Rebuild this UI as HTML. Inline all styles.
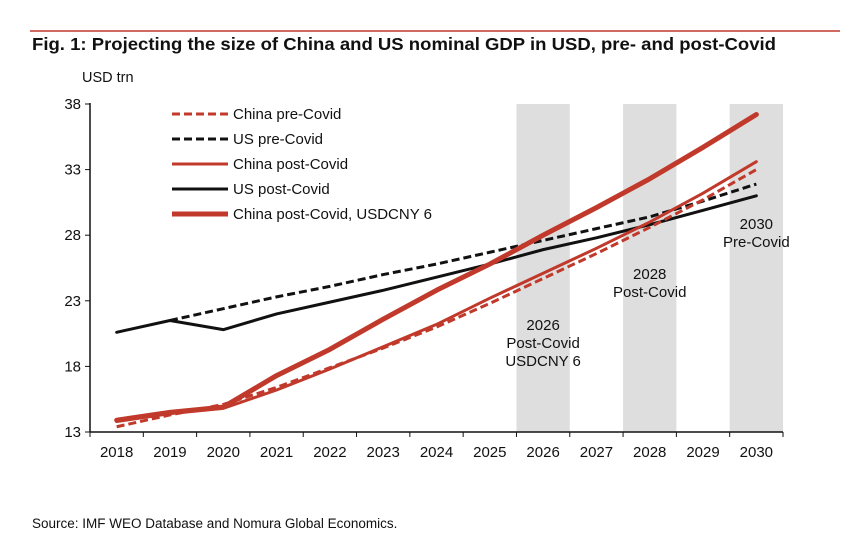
<!DOCTYPE html>
<html><head><meta charset="utf-8"><style>
body{margin:0;background:#fff;font-family:"Liberation Sans",Arial,sans-serif;}
#wrap{position:relative;width:861px;height:554px;overflow:hidden;}
</style></head><body>
<div id="wrap">
<svg id="svg" width="861" height="554">
<line x1="30" y1="31" x2="840" y2="31" stroke="#c0392b" stroke-width="1.5"/>
<text x="32" y="50" font-size="17.5" font-weight="bold" fill="#111" textLength="744" lengthAdjust="spacingAndGlyphs">Fig. 1:  Projecting the size of China and US nominal GDP in USD, pre- and post-Covid</text>
<text x="82" y="82" font-size="14.5" fill="#111">USD trn</text>
<text x="32" y="528" font-size="13.5" fill="#111">Source: IMF WEO Database and Nomura Global Economics.</text>
<g id="bands"></g><g id="axes"></g><g id="lines"></g><g id="legend"></g><g id="notes"></g>
</svg>
</div>
<script>
const years=[2018,2019,2020,2021,2022,2023,2024,2025,2026,2027,2028,2029,2030];
const yTicks=[13,18,23,28,33,38];
const chinaPre=[13.4,14.3,15.1,16.4,17.9,19.4,21.0,22.8,24.7,26.6,28.6,30.7,33.0];
const usPre=[null,21.5,22.4,23.3,24.1,25.0,25.8,26.7,27.6,28.5,29.4,30.6,31.9];
const chinaPost=[13.8,14.4,14.8,16.2,17.8,19.5,21.2,23.2,25.1,27.0,29.0,31.2,33.6];
const usPost=[20.6,21.5,20.8,22.0,22.9,23.8,24.8,25.8,26.9,27.8,28.8,29.9,31.0];
const chinaCny6=[13.9,14.5,14.9,17.3,19.3,21.6,23.8,25.8,28.0,30.1,32.3,34.7,37.2];
const bandYears=[2026,2028,2030];
const notes=[["2026","Post-Covid","USDCNY 6"],["2028","Post-Covid"],["2030","Pre-Covid"]];
const ns="http://www.w3.org/2000/svg";
const X0=90,X1=783,Y0=432,Y1=104,VMIN=13,VMAX=38;
const cw=(X1-X0)/years.length;
const xc=i=>X0+(i+0.5)*cw;
const xs=y=>xc(years.indexOf(y));
const ys=v=>Y0-(v-VMIN)/(VMAX-VMIN)*(Y0-Y1);
function mk(t,a,p){const e=document.createElementNS(ns,t);for(const k in a)e.setAttribute(k,a[k]);(p||document.getElementById('svg')).appendChild(e);return e;}
const gb=document.getElementById('bands'),ga=document.getElementById('axes'),gl=document.getElementById('lines'),gg=document.getElementById('legend'),gn=document.getElementById('notes');
bandYears.forEach(y=>{const r=mk('rect',{x:xs(y)-cw/2,y:Y1,width:cw,height:Y0-Y1,fill:'#dedede'},gb);

});
let l=mk('line',{x1:X0,y1:Y1-1,x2:X0,y2:Y0,stroke:'#111','stroke-width':1.5},ga);


l=mk('line',{x1:X0,y1:Y0,x2:X1,y2:Y0,stroke:'#111','stroke-width':1.5},ga);


yTicks.forEach(v=>{mk('line',{x1:X0-5,y1:ys(v),x2:X0,y2:ys(v),stroke:'#111'},ga);
const t=mk('text',{x:X0-9,y:ys(v)+5,'text-anchor':'end','font-size':15,fill:'#111'},ga);t.textContent=v;

});
years.forEach((y,i)=>{mk('line',{x1:X0+(i+1)*cw,y1:Y0,x2:X0+(i+1)*cw,y2:Y0+5,stroke:'#111'},ga);
const t=mk('text',{x:xc(i),y:Y0+25,'text-anchor':'middle','font-size':15,fill:'#111'},ga);t.textContent=y;

});
mk('line',{x1:X0,y1:Y0,x2:X0,y2:Y0+5,stroke:'#111'},ga);
const series=[
{d:chinaPre,c:'#c0392b',w:3,dash:'8,4',n:'China pre-Covid',id:'china-pre-covid-line'},
{d:usPre,c:'#111',w:3,dash:'8,4',n:'US pre-Covid',id:'us-pre-covid-line'},
{d:chinaPost,c:'#c0392b',w:3,dash:'',n:'China post-Covid',id:'china-post-covid-line'},
{d:usPost,c:'#111',w:3,dash:'',n:'US post-Covid',id:'us-post-covid-line'},
{d:chinaCny6,c:'#c0392b',w:5,dash:'',n:'China post-Covid, USDCNY 6',id:'china-usdcny6-line'}];
const drawOrder=[1,3,0,2,4];
drawOrder.forEach(k=>{const s=series[k];let pts=[];s.d.forEach((v,i)=>{if(v!=null)pts.push(xc(i)+','+ys(v));});
const p=mk('polyline',{points:pts.join(' '),fill:'none',stroke:s.c,'stroke-width':s.w,'stroke-dasharray':s.dash,'stroke-linejoin':'round','stroke-linecap':s.dash?'butt':'round'},gl);

});
series.forEach((s,i)=>{const y=114+i*25;
const ln=mk('line',{x1:172,y1:y,x2:228,y2:y,stroke:s.c,'stroke-width':s.w,'stroke-dasharray':s.dash},gg);


const t=mk('text',{x:233,y:y+5,'font-size':15,fill:'#111'},gg);t.textContent=s.n;

});
const noteY=[[330,348,366],[279,297],[229,247]];
notes.forEach((lines,j)=>{lines.forEach((txt,k)=>{const t=mk('text',{x:xs(bandYears[j]),y:noteY[j][k],'text-anchor':'middle','font-size':15,fill:'#111'},gn);t.textContent=txt;

});});
</script>
</body></html>
